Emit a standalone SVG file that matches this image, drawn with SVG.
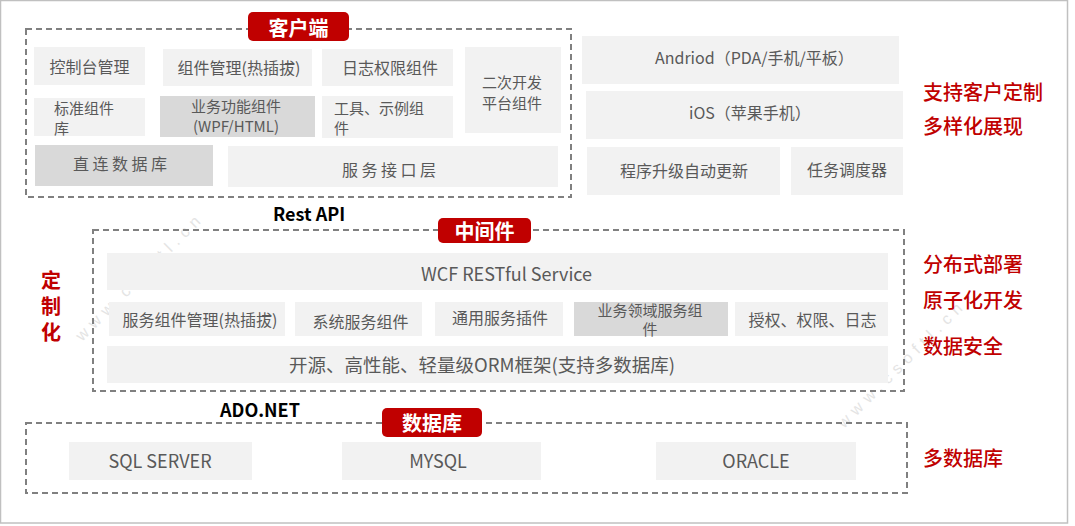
<svg xmlns="http://www.w3.org/2000/svg" width="1075" height="526" viewBox="0 0 1075 526">
<style>
text{font-family:"Noto Sans CJK SC","Noto Sans",sans-serif;dominant-baseline:central}
.b{fill:#f2f2f2}
.d{fill:#d9d9d9}
.t{font-size:16px;fill:#595959}
.t2{font-size:15px;fill:#595959}
.tm{text-anchor:middle}
.dash{fill:none;stroke:#808080;stroke-width:2;stroke-dasharray:6 4}
.tag{fill:#c00000}
.tagt{font-size:20px;font-weight:bold;fill:#fff;text-anchor:middle}
.red{font-size:20px;fill:#c00000;font-weight:500}
.lbl{font-size:18px;font-weight:bold;fill:#000}
.wm{font-size:16px;fill:#e4e4e4;letter-spacing:6px;font-family:"Liberation Sans",sans-serif}
.vert{writing-mode:vertical-rl;letter-spacing:6px;font-weight:bold}
</style>
<rect x="0.5" y="0.5" width="1067" height="522.5" fill="#fff" stroke="#c0c0c0" stroke-width="1.5"/>
<g id="watermark">
<text class="wm" transform="translate(78,338) rotate(-45)">www.csoftl.cn</text>
<text class="wm" transform="translate(840,425) rotate(-45)">www.csoftl.cn</text>
</g>
<g id="client">
<rect class="dash" x="26" y="29" width="545" height="168"/>
<rect class="tag" x="248" y="12" width="101" height="29" rx="5"/>
<text class="tagt" x="298.5" y="27">客户端</text>
</g>
<g id="n-console"><rect class="b" x="34" y="47" width="111" height="38"/><text class="t tm" x="89.5" y="66">控制台管理</text></g>
<g id="n-compmgr"><rect class="b" x="163" y="49" width="149" height="37"/><text class="t tm" x="239" y="67">组件管理(热插拔)</text></g>
<g id="n-log"><rect class="b" x="322" y="49" width="131" height="37"/><text class="t tm" x="390" y="67">日志权限组件</text></g>
<g id="n-dev"><rect class="b" x="465" y="47" width="96" height="86"/><text class="t2 tm"><tspan x="512" y="81">二次开发</tspan><tspan x="512" dy="21">平台组件</tspan></text></g>
<g id="n-std"><rect class="b" x="34" y="98" width="111" height="38"/><text class="t2"><tspan x="54" y="107">标准组件</tspan><tspan x="54" dy="20">库</tspan></text></g>
<g id="n-biz"><rect class="d" x="160" y="96" width="155" height="41"/><text class="t2 tm"><tspan x="236" y="105">业务功能组件</tspan><tspan x="236" dy="20">(WPF/HTML)</tspan></text></g>
<g id="n-tool"><rect class="b" x="322" y="96" width="131" height="42"/><text class="t2"><tspan x="334" y="107">工具、示例组</tspan><tspan x="334" dy="20">件</tspan></text></g>
<g id="n-direct"><rect class="d" x="35" y="145" width="178" height="41"/><text class="t" x="73" y="163" style="letter-spacing:3.5px">直连数据库</text></g>
<g id="n-svc"><rect class="b" x="228" y="146" width="330" height="41"/><text class="t" x="342" y="169" style="letter-spacing:3.5px">服务接口层</text></g>
<g id="n-android"><rect class="b" x="582" y="36" width="317" height="48"/><text class="t" x="655" y="57">Andriod（PDA/手机/平板）</text></g>
<g id="n-ios"><rect class="b" x="586" y="91" width="317" height="48"/><text class="t" x="689" y="112">iOS（苹果手机）</text></g>
<g id="n-upgrade"><rect class="b" x="587" y="147" width="193" height="48"/><text class="t" x="620" y="170">程序升级自动更新</text></g>
<g id="n-sched"><rect class="b" x="791" y="147" width="112" height="48"/><text class="t" x="807" y="169">任务调度器</text></g>
<g id="r-client"><text class="red" x="923" y="91">支持客户定制</text><text class="red" x="923" y="125">多样化展现</text></g>
<g id="connectors">
<text class="lbl" x="273" y="213">Rest API</text>
<text class="lbl" x="220" y="409">ADO.NET</text>
</g>
<g id="middleware">
<rect class="dash" x="93" y="230" width="811" height="161"/>
<rect class="tag" x="438" y="218" width="93" height="25" rx="5"/>
<text class="tagt" x="484.5" y="230.5">中间件</text>
</g>
<g id="r-custom"><text class="red vert" x="51" y="270">定制化</text></g>
<g id="n-wcf"><rect class="b" x="107" y="253" width="781" height="37"/><text class="t" x="421" y="273" style="font-size:18px">WCF RESTful Service</text></g>
<g id="n-svccomp"><rect class="b" x="109" y="302" width="176" height="34"/><text class="t tm" x="200" y="319">服务组件管理(热插拔)</text></g>
<g id="n-syscomp"><rect class="b" x="295" y="302" width="127" height="34"/><text class="t tm" x="360.5" y="321">系统服务组件</text></g>
<g id="n-plugin"><rect class="b" x="435" y="302" width="128" height="34"/><text class="t tm" x="500" y="317">通用服务插件</text></g>
<g id="n-domain"><rect class="d" x="574" y="302" width="154" height="34"/><text class="t2 tm"><tspan x="650" y="309">业务领域服务组</tspan><tspan x="650" dy="19">件</tspan></text></g>
<g id="n-auth"><rect class="b" x="735" y="302" width="153" height="34"/><text class="t tm" x="812.5" y="319">授权、权限、日志</text></g>
<g id="n-orm"><rect class="b" x="107" y="346" width="781" height="37"/><text class="t" x="289" y="364" style="font-size:18.5px">开源、高性能、轻量级ORM框架(支持多数据库)</text></g>
<g id="r-mid"><text class="red" x="923" y="263">分布式部署</text><text class="red" x="923" y="299">原子化开发</text><text class="red" x="923" y="345">数据安全</text></g>
<g id="database">
<rect class="dash" x="26" y="423" width="881" height="70"/>
<rect class="tag" x="382" y="408" width="100" height="29" rx="5"/>
<text class="tagt" x="432" y="422">数据库</text>
</g>
<g id="n-sql"><rect class="b" x="69" y="442" width="183" height="38"/><text class="t tm" x="160" y="460" style="font-size:18px">SQL SERVER</text></g>
<g id="n-mysql"><rect class="b" x="342" y="442" width="199" height="38"/><text class="t tm" x="438" y="460" style="font-size:18px">MYSQL</text></g>
<g id="n-oracle"><rect class="b" x="656" y="442" width="200" height="38"/><text class="t tm" x="756" y="460" style="font-size:18px">ORACLE</text></g>
<g id="r-db"><text class="red" x="923" y="457">多数据库</text></g>
</svg>
